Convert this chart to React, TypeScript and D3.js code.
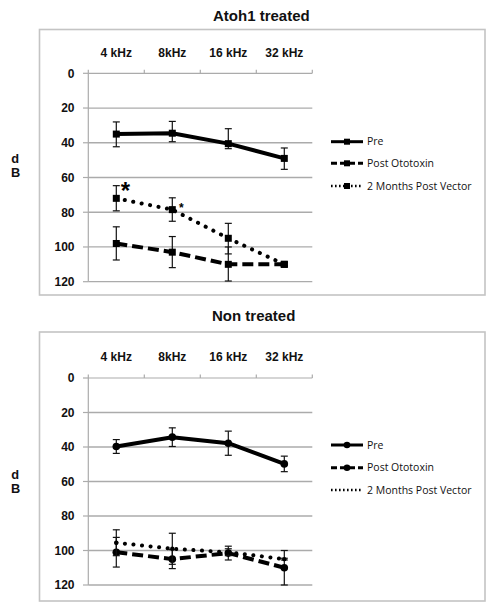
import React from "react";
import * as d3 from "d3";

const categories = ["4 kHz", "8kHz", "16 kHz", "32 kHz"];
const yTicks = [0, 20, 40, 60, 80, 100, 120];
const seriesNames = ["Pre", "Post Ototoxin", "2 Months Post Vector"];

// Atoh1 treated
const atohPre = [35, 34.5, 40.5, 49];
const atohPreErrUp = [7, 6.8, 8.6, 6];
const atohPreErrDown = [7.3, 4.9, 2.9, 6.3];
const atohPost = [98, 103, 110, 110];
const atohPostErrUp = [9.6, 9, 10, 1];
const atohPostErrDown = [9.5, 8.9, 9.6, 1];
const atoh2m = [72, 78.5, 95, 110];
const atoh2mErrUp = [7.3, 6.8, 8.6, 1];
const atoh2mErrDown = [7.2, 6.7, 9, 1];

// Non treated
const nonPre = [39.7, 34.3, 37.8, 49.8];
const nonPreErrUp = [4, 5.4, 7, 4.5];
const nonPreErrDown = [4, 5.4, 7, 4.5];
const nonPost = [101, 105, 101.5, 110];
const nonPostErrUp = [8.6, 5.5, 4, 10];
const nonPostErrDown = [8.6, 5.5, 4, 10];
const non2m = [95.5, 99, 101, 105];
const non2mErrUp = [7.5, 9, 2, 0.5];
const non2mErrDown = [7.5, 9, 2, 0.5];

const FONT = "Liberation Sans, Arial, sans-serif";
const LEGFONT = "Open Sans, Liberation Sans, sans-serif";

type Series = {
  values: number[];
  up: number[];
  down: number[];
  dash: string;
  cap: "butt" | "round";
  marker: "square" | "circle" | "smallcircle";
};

function Panel(props: {
  top: number;
  boxBottom: number;
  title: string;
  titleX: number;
  titleY: number;
  catY: number;
  y0: number;
  y1: number;
  dY: number;
  bY: number;
  legendY: number[];
  series: Series[];
  legendMarkers: ("square" | "circle" | "none")[];
  stars?: { i: number; size: number; dx: number; by: number }[];
}) {
  const x = d3.scaleBand<string>().domain(categories).range([88.3, 312.3]).padding(0);
  const y = d3.scaleLinear().domain([0, 120]).range([props.y0, props.y1]);
  const cx = (i: number) => (x(categories[i]) as number) + x.bandwidth() / 2;
  const line = d3
    .line<number>()
    .x((_, i) => cx(i))
    .y((v) => y(v));
  const grid = "#ababab";
  const bounds = [0, 1, 2, 3, 4].map((k) => 88.3 + k * x.bandwidth());
  const legDash = ["", "6 3", "1.6 2.4"];
  const legW = [3, 3, 2.4];
  return (
    <g>
      <rect x={39.5} y={props.top} width={445.5} height={props.boxBottom - props.top} fill="white" stroke="#c4c4c4" strokeWidth={1.6} />
      <text x={props.titleX} y={props.titleY} fontFamily={FONT} fontWeight="bold" fontSize={15} fill="#111">
        {props.title}
      </text>
      {categories.map((c, i) => (
        <text key={c} x={cx(i)} y={props.catY} textAnchor="middle" fontFamily={FONT} fontWeight="bold" fontSize={12} fill="#111">
          {c}
        </text>
      ))}
      {yTicks.map((t) => (
        <g key={t}>
          {t > 0 && <line x1={88.3} x2={312.3} y1={y(t)} y2={y(t)} stroke={grid} strokeWidth={1.3} />}
          <line x1={83} x2={88.3} y1={y(t)} y2={y(t)} stroke={grid} strokeWidth={1.2} />
          <text x={74.5} y={y(t)} dy="0.36em" textAnchor="end" fontFamily={FONT} fontWeight="bold" fontSize={12} fill="#111">
            {t}
          </text>
        </g>
      ))}
      <line x1={88.3} x2={312.3} y1={y(0)} y2={y(0)} stroke={grid} strokeWidth={1.2} />
      {bounds.map((b, k) => (
        <line key={k} x1={b} x2={b} y1={y(0)} y2={y(0) - 3.5} stroke={grid} strokeWidth={1.2} />
      ))}
      <line x1={88.3} x2={88.3} y1={y(0)} y2={y(120)} stroke={grid} strokeWidth={1.2} />
      <text x={15.2} y={props.dY} textAnchor="middle" fontFamily={FONT} fontWeight="bold" fontSize={12.8} fill="#111">
        d
      </text>
      <text x={15.5} y={props.bY} textAnchor="middle" fontFamily={FONT} fontWeight="bold" fontSize={12.8} fill="#111">
        B
      </text>
      {props.series.map((s, si) => (
        <g key={si}>
          <path d={line(s.values) as string} fill="none" stroke="#000" strokeWidth={4} strokeDasharray={s.dash} strokeLinecap={s.cap} strokeLinejoin="round" />
          {s.values.map((v, i) => (
            <g key={i} stroke="#111" strokeWidth={1.2}>
              <line x1={cx(i)} x2={cx(i)} y1={y(v - s.up[i])} y2={y(v + s.down[i])} />
              <line x1={cx(i) - 3.5} x2={cx(i) + 3.5} y1={y(v - s.up[i])} y2={y(v - s.up[i])} />
              <line x1={cx(i) - 3.5} x2={cx(i) + 3.5} y1={y(v + s.down[i])} y2={y(v + s.down[i])} />
            </g>
          ))}
          {s.values.map((v, i) =>
            s.marker === "square" ? (
              <rect key={"m" + i} x={cx(i) - 3.5} y={y(v) - 3.5} width={7} height={7} fill="#000" />
            ) : (
              <circle key={"m" + i} cx={cx(i)} cy={y(v)} r={s.marker === "circle" ? 3.8 : 2.2} fill="#000" />
            )
          )}
        </g>
      ))}
      {(props.stars || []).map((st, k) => (
        <text key={k} x={cx(st.i) + st.dx} y={st.by} textAnchor="middle" fontFamily={FONT} fontWeight="bold" fontSize={st.size} fill="#000">
          *
        </text>
      ))}
      {seriesNames.map((n, i) => (
        <g key={n}>
          <line x1={331} x2={363} y1={props.legendY[i]} y2={props.legendY[i]} stroke="#000" strokeWidth={legW[i]} strokeDasharray={legDash[i]} />
          {props.legendMarkers[i] === "square" && <rect x={344} y={props.legendY[i] - 3} width={6} height={6} fill="#000" />}
          {props.legendMarkers[i] === "circle" && <circle cx={347} cy={props.legendY[i]} r={3.3} fill="#000" />}
          <text x={367} y={props.legendY[i]} dy="0.35em" fontFamily={LEGFONT} fontSize={10.5} fill="#111">
            {n}
          </text>
        </g>
      ))}
    </g>
  );
}

export default function App() {
  const topSeries: Series[] = [
    { values: atohPre, up: atohPreErrUp, down: atohPreErrDown, dash: "", cap: "butt", marker: "square" },
    { values: atohPost, up: atohPostErrUp, down: atohPostErrDown, dash: "11 5", cap: "butt", marker: "square" },
    { values: atoh2m, up: atoh2mErrUp, down: atoh2mErrDown, dash: "0.1 8.5", cap: "round", marker: "square" },
  ];
  const botSeries: Series[] = [
    { values: nonPre, up: nonPreErrUp, down: nonPreErrDown, dash: "", cap: "butt", marker: "circle" },
    { values: nonPost, up: nonPostErrUp, down: nonPostErrDown, dash: "11 5", cap: "butt", marker: "circle" },
    { values: non2m, up: non2mErrUp, down: non2mErrDown, dash: "0.1 8.5", cap: "round", marker: "smallcircle" },
  ];
  return (
    <svg width={496} height={611} style={{ position: "absolute", left: 0, top: 0, background: "white" }}>
      <rect x={0} y={0} width={496} height={611} fill="white" />
      <Panel
        top={29.5}
        boxBottom={295}
        title="Atoh1 treated"
        titleX={213}
        titleY={20.5}
        catY={57.3}
        y0={73.3}
        y1={281.7}
        dY={163}
        bY={176.8}
        legendY={[141.7, 163.3, 186]}
        series={topSeries}
        legendMarkers={["square", "square", "square"]}
        stars={[
          { i: 0, size: 24, dx: 9, by: 199 },
          { i: 1, size: 12, dx: 9, by: 212 },
        ]}
      />
      <Panel
        top={332}
        boxBottom={601}
        title="Non treated"
        titleX={212}
        titleY={320.5}
        catY={360.7}
        y0={378}
        y1={585}
        dY={479}
        bY={492.8}
        legendY={[445, 467.7, 490]}
        series={botSeries}
        legendMarkers={["circle", "circle", "none"]}
      />
    </svg>
  );
}
